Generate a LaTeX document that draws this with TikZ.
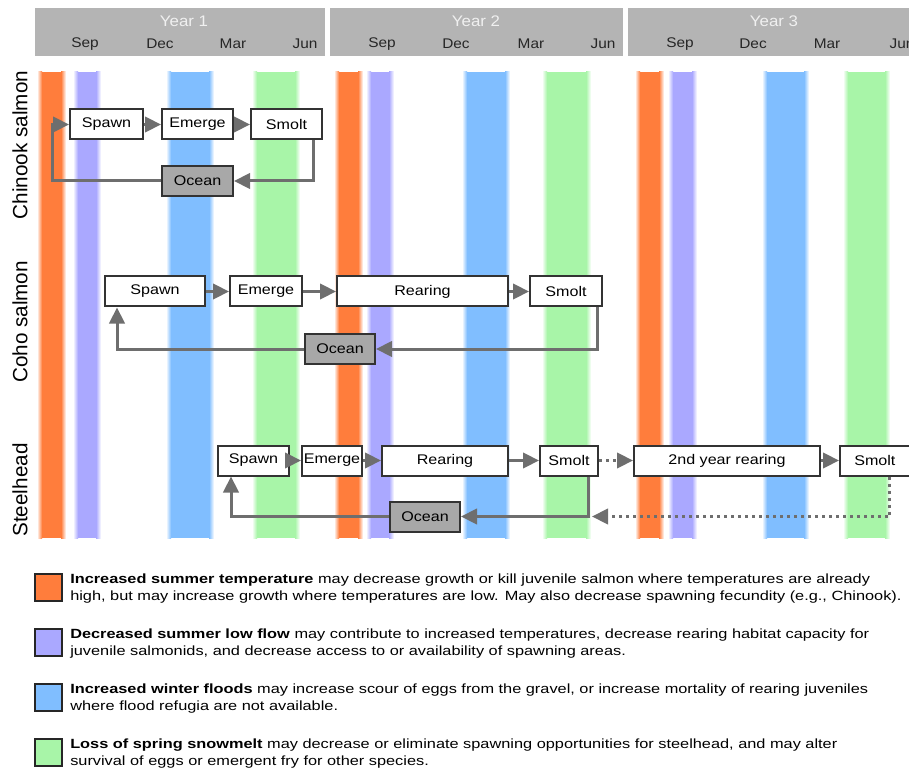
\documentclass[tikz,border=0pt]{standalone}
\usepackage{fontspec}
\setmainfont{Liberation Sans}
\newfontfamily\boxfont[FakeStretch=1.15]{Liberation Sans}
\newfontfamily\legfont[FakeStretch=1.225]{Liberation Sans}
\newfontfamily\hdrfont[FakeStretch=1.1]{Liberation Sans}
\usetikzlibrary{arrows.meta}
\definecolor{corange}{RGB}{255,125,60}
\definecolor{cpurple}{RGB}{170,168,255}
\definecolor{cblue}{RGB}{128,190,255}
\definecolor{cgreen}{RGB}{168,245,168}
\definecolor{hdr}{RGB}{180,180,180}
\definecolor{conncol}{RGB}{110,110,110}
\definecolor{oceanfill}{RGB}{168,168,168}
\newcommand\colband[3]{%
  \fill[#3] (#1+5,72) rectangle (#2-5,538);
  \shade[left color=white,right color=#3] (#1,72) rectangle (#1+5,538);
  \shade[left color=#3,right color=white] (#2-5,72) rectangle (#2,538);
}
\tikzset{
  box/.style={draw=black!80, line width=1.5pt, fill=white, minimum height=22.5pt,
    inner sep=0pt, font=\boxfont\fontsize{10.5}{12.5}\selectfont},
  oceanbox/.style={box, fill=oceanfill},
  conn/.style={draw=conncol, line width=2.25pt, -{Triangle[length=12pt,width=11.5pt]}},
  dotconn/.style={conn, dash pattern=on 2.25pt off 3pt},
  month/.style={font=\hdrfont\fontsize{10.5}{12}\selectfont, text=black!85},
  yearlbl/.style={font=\hdrfont\fontsize{11.5}{13}\selectfont, text=white!94!black},
  species/.style={rotate=90, font=\fontsize{15.5}{18}\selectfont},
  legsq/.style={draw=black!85, line width=1.2pt},
  legtxt/.style={anchor=north west, align=left, inner sep=0pt, font=\legfont\fontsize{10}{12.75}\selectfont},
}
\begin{document}
\begin{tikzpicture}[x=0.75pt,y=-0.75pt]
\useasboundingbox (0,0) rectangle (909,773);
% header
\fill[hdr] (35,8) rectangle (325,56);
\fill[hdr] (330,8) rectangle (623,56);
\fill[hdr] (628,8) rectangle (915,56);
\node[yearlbl] (y1) at (184,21) {Year 1};
\node[yearlbl] (y2) at (476,21) {Year 2};
\node[yearlbl] (y3) at (774,21) {Year 3};
\node[month] (m1) at (85,44) {Sep};
\node[month] (m2) at (160,44) {Dec};
\node[month] (m3) at (233,44) {Mar};
\node[month] (m4) at (305,44) {Jun};
\node[month] (m5) at (382,44) {Sep};
\node[month] (m6) at (456,44) {Dec};
\node[month] (m7) at (531,44) {Mar};
\node[month] (m8) at (603,44) {Jun};
\node[month] (m9) at (680,44) {Sep};
\node[month] (m10) at (753,44) {Dec};
\node[month] (m11) at (827,44) {Mar};
\node[month] (m12) at (902,44) {Jun};
% bands
\colband{37}{66}{corange}
\colband{73}{101}{cpurple}
\colband{166}{214}{cblue}
\colband{252}{300}{cgreen}
\colband{334}{363}{corange}
\colband{366}{394}{cpurple}
\colband{462}{510}{cblue}
\colband{542}{591}{cgreen}
\colband{635}{664}{corange}
\colband{668}{697}{cpurple}
\colband{762}{809}{cblue}
\colband{843}{890}{cgreen}
% species labels
\node[species] (lch) at (20,145) {Chinook salmon};
\node[species] (lco) at (20,322) {Coho salmon};
\node[species] (lst) at (20,490) {Steelhead};
% Chinook
\node[box, minimum width=54.75pt] (chsp) at (106.5,124.5) {Spawn};
\node[box, minimum width=53.25pt] (chem) at (197.5,124.5) {Emerge};
\node[box, minimum width=53.25pt] (chsm) at (286.5,124.5) {Smolt};
\node[oceanbox, minimum width=53.25pt] (choc) at (197.5,181) {Ocean};
\coordinate (chc) at (52,124.5);
\draw[conn] (chsp) -- (chem);
\draw[conn] (chem) -- (chsm);
\draw[conn] ([xshift=-7.5pt]chsm.south east) |- (choc.east);
\draw[conn] (choc.west) -| (chc) -- (chsp.west);
% Coho
\node[box, minimum width=75pt] (cosp) at (155,291.5) {Spawn};
\node[box, minimum width=54pt] (coem) at (266,291.5) {Emerge};
\node[box, minimum width=128.25pt] (core) at (422.5,291.5) {Rearing};
\node[box, minimum width=54pt] (cosm) at (566,291.5) {Smolt};
\node[oceanbox, minimum width=52.5pt] (cooc) at (340,349) {Ocean};
\draw[conn] (cosp) -- (coem);
\draw[conn] (coem) -- (core);
\draw[conn] (core) -- (cosm);
\draw[conn] ([xshift=-4.5pt]cosm.south east) |- (cooc.east);
\draw[conn] (cooc.west) -| ([xshift=9.75pt]cosp.south west);
% Steelhead
\node[box, minimum width=53.25pt] (stsp) at (253.5,460.5) {Spawn};
\node[box, minimum width=45pt] (stem) at (332,460.5) {Emerge};
\node[box, minimum width=94.5pt] (stre) at (445,460.5) {Rearing};
\node[box, minimum width=43.5pt] (stsm) at (569,460.5) {Smolt};
\node[box, minimum width=139.5pt] (st2y) at (727,460.5) {2nd year rearing};
\node[box, minimum width=56.25pt] (stsm2) at (877.5,460.5) {\hspace*{-4pt}Smolt};
\node[oceanbox, minimum width=52.5pt] (stoc) at (425,516.5) {Ocean};
\coordinate (stend) at (592,516.5);
\draw[conn] (stsp) -- (stem);
\draw[conn] (stem) -- (stre);
\draw[conn] (stre) -- (stsm);
\draw[dotconn] (stsm) -- (st2y);
\draw[conn] (st2y) -- (stsm2);
\draw[conn] ([xshift=-8.25pt]stsm.south east) |- (stoc.east);
\draw[conn] (stoc.west) -| ([xshift=10.5pt]stsp.south west);
\draw[dotconn] ([xshift=9pt]stsm2.south) |- (stend);
% legend
\draw[legsq, fill=corange] (35,574) rectangle (62,601);
\node[legtxt] (lg1) at (70,574) {\textbf{Increased summer temperature} may decrease growth or kill juvenile salmon where temperatures are already\\high, but may increase growth where temperatures are low. May also decrease spawning fecundity (e.g., Chinook).};
\draw[legsq, fill=cpurple] (35,629) rectangle (62,656);
\node[legtxt] (lg2) at (70,629) {\textbf{Decreased summer low flow} may contribute to increased temperatures, decrease rearing habitat capacity for\\juvenile salmonids, and decrease access to or availability of spawning areas.};
\draw[legsq, fill=cblue] (35,684) rectangle (62,711);
\node[legtxt] (lg3) at (70,684) {\textbf{Increased winter floods} may increase scour of eggs from the gravel, or increase mortality of rearing juveniles\\where flood refugia are not available.};
\draw[legsq, fill=cgreen] (35,739) rectangle (62,766);
\node[legtxt] (lg4) at (70,739) {\textbf{Loss of spring snowmelt} may decrease or eliminate spawning opportunities for steelhead, and may alter\\survival of eggs or emergent fry for other species.};
\end{tikzpicture}
\end{document}
